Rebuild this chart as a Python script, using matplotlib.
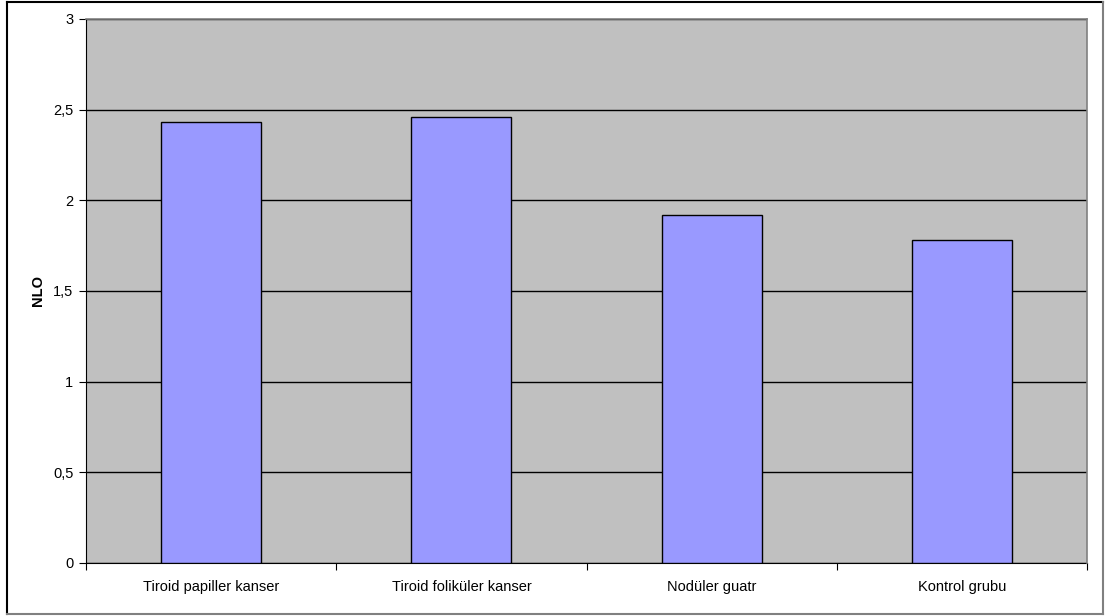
import matplotlib.pyplot as plt
from matplotlib.lines import Line2D
from matplotlib.ticker import FuncFormatter

# Data
categories = ['Tiroid papiller kanser', 'Tiroid foliküler kanser', 'Nodüler guatr', 'Kontrol grubu']
nlo = [2.43, 2.46, 1.92, 1.78]
y_ticks = [0, 0.5, 1, 1.5, 2, 2.5, 3]

plt.rcParams['font.family'] = ['Liberation Sans', 'DejaVu Sans']

fig = plt.figure(figsize=(11.05, 6.16), dpi=100)
ax = fig.add_axes([86 / 1105, 53 / 616, 1001 / 1105, 544 / 616])
ax.set_facecolor('#C0C0C0')

x = range(len(categories))
ax.bar(x, nlo, width=0.4, color='#9999FF', edgecolor='black', linewidth=1, zorder=3)

ax.set_xlim(-0.5, len(categories) - 0.5)
ax.set_ylim(0, 3)
ax.set_yticks(y_ticks)
ax.yaxis.set_major_formatter(FuncFormatter(lambda v, p: ('%g' % v).replace('.', ',')))
ax.grid(axis='y', color='black', linewidth=1, zorder=1)

# category labels centered, ticks at category boundaries
ax.set_xticks([i - 0.5 for i in range(len(categories) + 1)])
ax.set_xticklabels([])
ax.set_xticks(list(x), minor=True)
ax.set_xticklabels(categories, minor=True)
ax.tick_params(axis='x', which='minor', length=0, pad=12, labelsize=10.5)
ax.tick_params(axis='x', which='major', length=5, direction='out', color='black')
ax.tick_params(axis='y', length=5, direction='out', labelsize=10.5, pad=4)

# axis title
fig.text(38 / 1105, 1 - 291 / 616, 'NLO', rotation=90, fontweight='bold',
         fontsize=10.5, ha='center', va='center')

# plot area frame: black axes, gray top/right edge
for side in ['top', 'right']:
    ax.spines[side].set_color('#808080')
    ax.spines[side].set_linewidth(1.2)
    ax.spines[side].set_zorder(4)
ax.spines['left'].set_color('black')
ax.spines['bottom'].set_color('black')

# outer chart border
x0, x1 = 7 / 1105, 1103 / 1105
y0, y1 = 1 - 614 / 616, 1 - 2 / 616
for xs, ys, c in [([x0, x1], [y1, y1], 'black'), ([x0, x0], [y0, y1], 'black'),
                  ([x1, x1], [y0, y1], '#808080'), ([x0, x1], [y0, y0], '#808080')]:
    fig.add_artist(Line2D(xs, ys, transform=fig.transFigure, color=c, linewidth=1.5))

fig.savefig('out.png', dpi=100)
